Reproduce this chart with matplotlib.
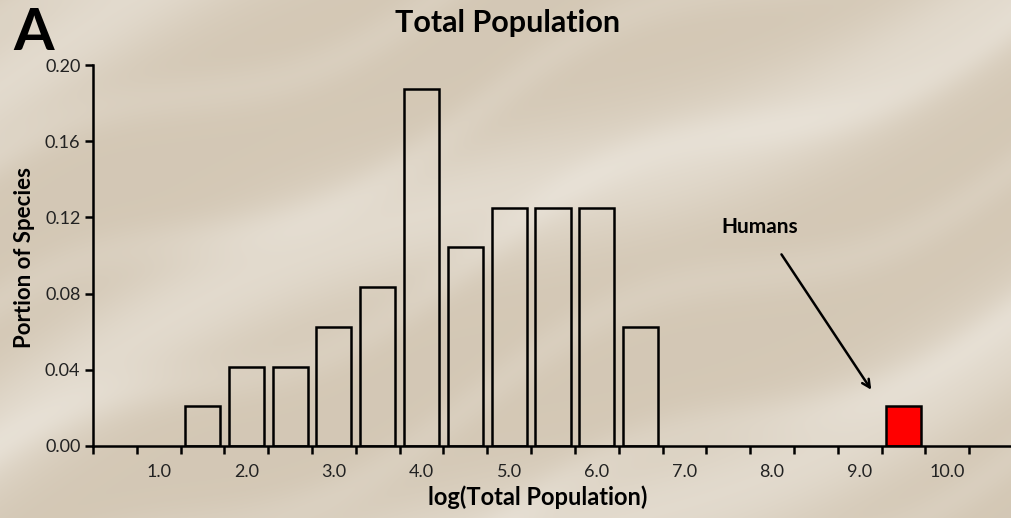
import numpy as np
import matplotlib
matplotlib.use("Agg")
import matplotlib.pyplot as plt

# ---- data ----
bin_centers = [1.5, 2.0, 2.5, 3.0, 3.5, 4.0, 4.5, 5.0, 5.5, 6.0, 6.5]
portions = [0.0208, 0.0417, 0.0417, 0.0625, 0.0833, 0.1875, 0.1042, 0.125, 0.125, 0.125, 0.0625]
human_bin = [9.5]
human_portion = [0.0208]
x_tick_labels = ["1.0", "2.0", "3.0", "4.0", "5.0", "6.0", "7.0", "8.0", "9.0", "10.0"]
x_label_pos = [1.0, 2.0, 3.0, 4.0, 5.0, 6.0, 7.0, 8.0, 9.0, 10.0]
y_ticks = [0.00, 0.04, 0.08, 0.12, 0.16, 0.20]

FONT = "Lato"
W, H = 1012, 518
fig = plt.figure(figsize=(W / 100, H / 100), dpi=100)

# ---- sand-like background ----
bg = fig.add_axes([0, 0, 1, 1])
yy, xx = np.mgrid[0:H, 0:W]
d = (xx * 0.45 + yy * 1.0)
streak = (0.5 + 0.5 * np.sin(d / 55.0 + 0.8 * np.sin(xx / 170.0))) ** 3
streak2 = (0.5 + 0.5 * np.sin(d / 23.0 + 1.3 * np.sin(xx / 90.0 + 1.0))) ** 4
t = np.clip(0.55 * streak + 0.2 * streak2 + 0.15, 0, 1)
dark = np.array([208, 195, 175]) / 255.0
light = np.array([234, 228, 218]) / 255.0
img = dark[None, None, :] * (1 - t[..., None]) + light[None, None, :] * t[..., None]
bg.imshow(img, aspect="auto", extent=[0, 1, 0, 1], origin="upper")
bg.axis("off")

# ---- main axes ----
ax_left = 93 / W
ax_bottom = (H - 446) / H
ax_w = (1013 - 93) / W
ax_h = (446 - 65) / H
ax = fig.add_axes([ax_left, ax_bottom, ax_w, ax_h])
ax.patch.set_alpha(0)

lw = 1.8
ax.bar(bin_centers, portions, width=0.4, facecolor="none", edgecolor="black", linewidth=lw)
ax.bar(human_bin, human_portion, width=0.4, facecolor="#ff0000", edgecolor="black", linewidth=lw)

ax.set_xlim(0.25, 10.75)
ax.set_ylim(0, 0.20)
for s in ["top", "right"]:
    ax.spines[s].set_visible(False)
for s in ["left", "bottom"]:
    ax.spines[s].set_linewidth(lw)
    ax.spines[s].set_color("black")

# x ticks at category boundaries, labels at integer centers
bounds = np.arange(0.25, 10.76, 0.5)
ax.set_xticks(bounds)
ax.set_xticklabels([])
ax.tick_params(axis="x", direction="out", length=6, width=lw, color="black")
ax.set_xticks(x_label_pos, minor=True)
ax.set_xticklabels(x_tick_labels, minor=True, fontfamily=FONT, fontsize=13, color="#222222")
ax.tick_params(axis="x", which="minor", length=0, pad=13)

ax.set_yticks(y_ticks)
ax.set_yticklabels([f"{v:.2f}" for v in y_ticks], fontfamily=FONT, fontsize=13, color="#222222")
ax.tick_params(axis="y", direction="out", length=6, width=lw, color="black", pad=3)

ax.set_xlabel("log(Total Population)", fontfamily=FONT, fontsize=17, fontweight="bold")
ax.xaxis.set_label_coords((538 - 93) / 920, -51 / 381)
ax.xaxis.label.set_va("center")
ax.set_ylabel("Portion of Species", fontfamily=FONT, fontsize=16, fontweight="bold")
ax.yaxis.set_label_coords(-(93 - 25) / 920, (446 - 257) / 381)
ax.yaxis.label.set_va("center")

# annotation
ax.annotate("", xy=(9.15, 0.0283), xytext=(8.09, 0.1018),
            arrowprops=dict(arrowstyle="->", color="black", lw=1.8, mutation_scale=14))
ax.text(7.86, 0.115, "Humans", fontfamily=FONT, fontsize=15, fontweight="bold", ha="center", va="center")

fig.text(508 / W, 1 - 23 / H, "Total Population", fontfamily=FONT, fontsize=22, fontweight="bold",
         ha="center", va="center")
fig.text(13 / W, 1 - 34 / H, "A", fontfamily=FONT, fontsize=42, fontweight="bold", ha="left", va="center")

fig.savefig("out.png", dpi=100)
